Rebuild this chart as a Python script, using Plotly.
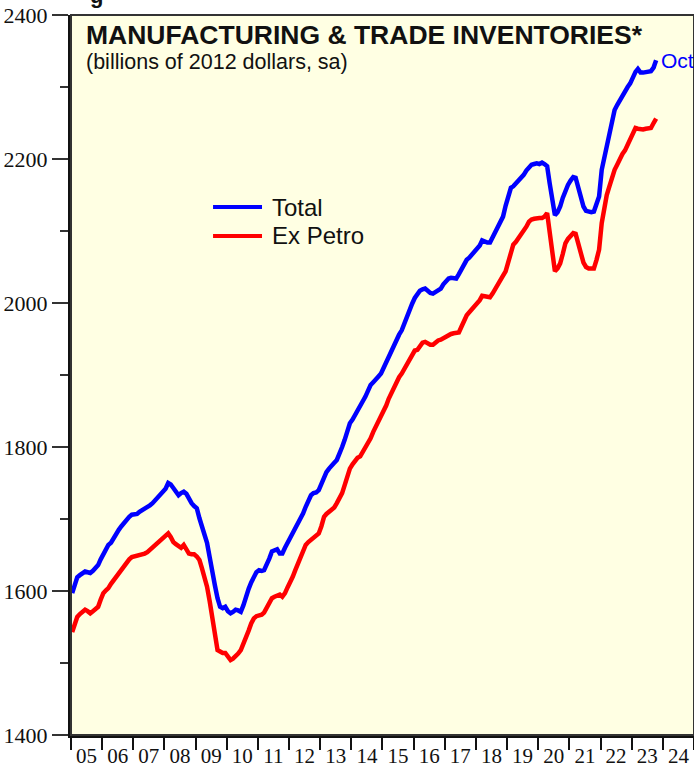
import pandas as pd
import plotly.graph_objects as go

# Monthly, Jan 2005 .. Oct 2023 (billions of 2012 dollars, sa)
months = (pd.date_range("2005-01-01", "2023-10-01", freq="MS") + pd.Timedelta(days=14))

total = [
    # 2005
    1597, 1612, 1619, 1622, 1624, 1627, 1626, 1625, 1628, 1632, 1636, 1644,
    # 2006
    1652, 1660, 1664, 1667, 1674, 1680, 1685, 1690, 1695, 1699, 1703, 1706,
    # 2007
    1707, 1707, 1710, 1712, 1714, 1716, 1719, 1722, 1726, 1731, 1734, 1739,
    # 2008
    1742, 1750, 1748, 1743, 1737, 1733, 1736, 1738, 1735, 1728, 1722, 1718,
    # 2009
    1715, 1701, 1690, 1679, 1667, 1647, 1625, 1608, 1590, 1578, 1576, 1578,
    # 2010
    1572, 1569, 1571, 1574, 1573, 1571, 1580, 1594, 1603, 1612, 1620, 1626,
    # 2011
    1629, 1628, 1629, 1636, 1645, 1655, 1657, 1658, 1652, 1652, 1660, 1667,
    # 2012
    1673, 1678, 1686, 1692, 1699, 1708, 1717, 1726, 1733, 1736, 1737, 1740,
    # 2013
    1749, 1759, 1765, 1770, 1775, 1778, 1782, 1790, 1800, 1810, 1821, 1833,
    # 2014
    1838, 1844, 1851, 1858, 1864, 1870, 1878, 1886, 1890, 1893, 1898, 1902,
    # 2015
    1910, 1918, 1925, 1934, 1942, 1949, 1956, 1962, 1972, 1983, 1993, 1999,
    # 2016
    2007, 2012, 2017, 2019, 2020, 2017, 2014, 2013, 2015, 2018, 2020, 2026,
    # 2017
    2031, 2034, 2035, 2034, 2034, 2040, 2047, 2053, 2060, 2063, 2067, 2071,
    # 2018
    2074, 2080, 2087, 2085, 2084, 2084, 2091, 2099, 2106, 2112, 2120, 2135,
    # 2019
    2148, 2160, 2162, 2166, 2170, 2173, 2178, 2184, 2189, 2192, 2193, 2194,
    # 2020
    2193, 2195, 2193, 2190, 2166, 2140, 2122, 2126, 2134, 2146, 2157, 2164,
    # 2021
    2170, 2175, 2174, 2160, 2143, 2134, 2128, 2127, 2126, 2127, 2136, 2148,
    # 2022
    2185, 2203, 2222, 2236, 2252, 2268, 2275, 2282, 2287, 2294, 2300, 2305,
    # 2023
    2315, 2321, 2325, 2320, 2320, 2321, 2321, 2322, 2327, 2337,
]

ex_petro = [
    # 2005
    1543, 1556, 1564, 1568, 1571, 1574, 1572, 1569, 1572, 1576, 1578, 1588,
    # 2006
    1597, 1601, 1604, 1610, 1615, 1620, 1625, 1629, 1635, 1641, 1644, 1647,
    # 2007
    1648, 1648, 1649, 1650, 1652, 1654, 1657, 1660, 1663, 1667, 1670, 1674,
    # 2008
    1677, 1680, 1675, 1668, 1665, 1662, 1660, 1664, 1658, 1652, 1651, 1651,
    # 2009
    1648, 1643, 1632, 1620, 1606, 1586, 1564, 1540, 1518, 1516, 1514, 1514,
    # 2010
    1508, 1504, 1506, 1509, 1513, 1518, 1526, 1535, 1545, 1555, 1562, 1565,
    # 2011
    1566, 1567, 1570, 1576, 1583, 1590, 1592, 1594, 1595, 1592, 1597, 1605,
    # 2012
    1612, 1620, 1629, 1638, 1647, 1656, 1664, 1668, 1671, 1674, 1677, 1680,
    # 2013
    1690, 1703, 1707, 1710, 1712, 1716, 1722, 1729, 1736, 1747, 1759, 1770,
    # 2014
    1776, 1781, 1785, 1787, 1793, 1798, 1803, 1812, 1821, 1828, 1835, 1842,
    # 2015
    1850, 1858, 1867, 1875, 1883, 1891, 1897, 1902, 1908, 1915, 1921, 1928,
    # 2016
    1934, 1935, 1940, 1945, 1946, 1944, 1942, 1942, 1946, 1948, 1949, 1951,
    # 2017
    1953, 1956, 1957, 1958, 1959, 1959, 1967, 1975, 1983, 1987, 1991, 1995,
    # 2018
    1999, 2004, 2010, 2009, 2008, 2008, 2013, 2020, 2025, 2031, 2038, 2044,
    # 2019
    2058, 2072, 2081, 2085, 2090, 2094, 2100, 2106, 2113, 2116, 2117, 2118,
    # 2020
    2118, 2118, 2120, 2125, 2098, 2068, 2044, 2048, 2055, 2068, 2083, 2089,
    # 2021
    2093, 2097, 2096, 2082, 2064, 2056, 2050, 2048, 2048, 2048, 2060, 2074,
    # 2022
    2111, 2135, 2150, 2162, 2175, 2185, 2192, 2200, 2207, 2212, 2220, 2226,
    # 2023
    2235, 2243, 2242, 2241, 2241, 2242, 2243, 2243, 2250, 2256,
]

y_ticks = [1400, 1600, 1800, 2000, 2200, 2400]
series_names = ["Total", "Ex Petro"]
series_colors = ["#0000FF", "#FF0000"]
last_label = "Oct"

fig = go.Figure()
for name, vals, col in zip(series_names, [total, ex_petro], series_colors):
    fig.add_trace(go.Scatter(x=months, y=vals, mode="lines", name=name,
                             line=dict(color=col, width=4.5), showlegend=False))

serif = "Liberation Serif, Times New Roman, serif"
sans = "Liberation Sans, Arial, sans-serif"

fig.update_layout(
    width=694, height=769,
    margin=dict(l=71, r=0, t=15, b=34, autoexpand=False),
    paper_bgcolor="white",
    plot_bgcolor="#FFFFE3",
    showlegend=False,
    xaxis=dict(
        type="date",
        range=["2005-01-01", "2025-01-01"],
        tick0="2005-01-01", dtick="M12",
        tickformat="%y", ticklabelmode="period",
        ticks="outside", ticklen=12, tickwidth=2, tickcolor="#111",
        ticklabelstandoff=-12,
        showgrid=False, zeroline=False,
        showline=True, linewidth=3, linecolor="#111",
        tickfont=dict(family=serif, size=21, color="#111"),
        automargin=False,
        fixedrange=True,
    ),
    yaxis=dict(
        range=[1400, 2400],
        tickvals=y_ticks,
        ticks="outside", ticklen=16, tickwidth=2, tickcolor="#333",
        minor=dict(dtick=100, tick0=1400, ticks="outside", ticklen=8, tickwidth=2, tickcolor="#333"),
        showgrid=False, zeroline=False,
        showline=True, linewidth=3, linecolor="#111",
        tickfont=dict(family=serif, size=22, color="#111"),
        automargin=False,
        fixedrange=True,
    ),
)

# plot frame (top & right)
fig.add_shape(type="rect", xref="paper", yref="paper", x0=0, x1=1, y0=0, y1=1,
              line=dict(color="#333", width=2), fillcolor="rgba(0,0,0,0)", layer="above")

# clipped fragment of a heading above the chart
fig.add_annotation(xref="paper", yref="paper", x=0.0273, y=1.0271, xanchor="left", yanchor="middle",
                   text="<b>g</b>", showarrow=False,
                   font=dict(family=sans, size=22, color="#111"))

# title & subtitle
fig.add_annotation(xref="paper", yref="paper", x=0.021, y=0.9722, xanchor="left", yanchor="middle",
                   text="<b>MANUFACTURING & TRADE INVENTORIES*</b>", showarrow=False,
                   font=dict(family=sans, size=26.5, color="#111"))
fig.add_annotation(xref="paper", yref="paper", x=0.021, y=0.9347, xanchor="left", yanchor="middle",
                   text="(billions of 2012 dollars, sa)", showarrow=False,
                   font=dict(family=sans, size=21.5, color="#111"))

# custom legend
for i, (name, col) in enumerate(zip(series_names, series_colors)):
    yy = 0.7333 - i * 0.0402
    fig.add_shape(type="line", xref="paper", yref="paper", x0=0.228, x1=0.3066, y0=yy, y1=yy,
                  line=dict(color=col, width=4))
    fig.add_annotation(xref="paper", yref="paper", x=0.3195, y=yy, xanchor="left", yanchor="middle",
                       text=name, showarrow=False, font=dict(family=sans, size=24, color="#111"))

# last-value label
fig.add_annotation(x=months[-1], y=total[-1], xanchor="left", yanchor="middle", xshift=3,
                   text=last_label, showarrow=False,
                   font=dict(family=sans, size=21, color="#0000FF"))

fig.write_html("out.html", config={"displayModeBar": False},
               post_script="document.body.style.margin='0px';document.body.style.overflow='hidden';")
